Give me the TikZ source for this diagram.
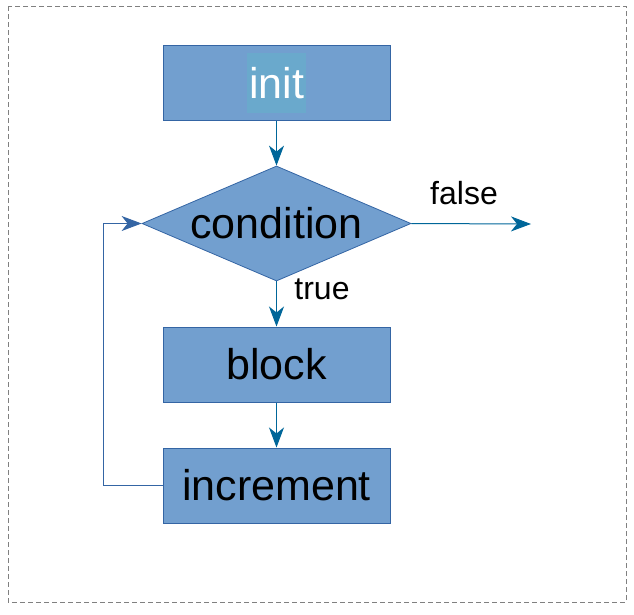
\documentclass[tikz,border=0pt]{standalone}
\usepackage{fontspec}
\setmainfont{Liberation Sans}
\usetikzlibrary{shapes.geometric,arrows.meta}
\definecolor{boxfill}{HTML}{729FCF}
\definecolor{boxline}{HTML}{3465A4}
\definecolor{arrowcol}{HTML}{006699}
\definecolor{hilite}{HTML}{6AA9CC}

\begin{document}
\begin{tikzpicture}[x=1pt, y=-1pt,
	box/.style={rectangle, draw=boxline, fill=boxfill, line width=1pt, minimum width=227pt, minimum height=75pt, inner sep=0pt, font=\fontsize{43}{50}\selectfont},
	decision/.style={diamond, draw=boxline, fill=boxfill, line width=0.8pt, aspect=2.34, minimum width=269pt, minimum height=115pt, inner sep=0pt, font=\fontsize{43}{50}\selectfont},
	lbl/.style={inner sep=0pt, font=\fontsize{32}{38}\selectfont},
	link/.style={draw=arrowcol, line width=1pt, -{Stealth[length=20pt, width=15pt, inset=6pt]}},
	back/.style={draw=boxline, line width=1pt, -{Stealth[length=20pt, width=15pt, inset=6pt]}}]
	\useasboundingbox (0,0) rectangle (634,614);
	\draw[gray, line width=0.8pt, dash pattern=on 5pt off 3pt] (8,6) rectangle (626,602);
	% boxes
	\node[box] (init) at (276.5,82.5) {};
	\node[fill=hilite, text=white, minimum width=59pt, minimum height=60pt, inner sep=0pt, font=\fontsize{43}{50}\selectfont] (initlbl) at (276.5,83) {init};
	\node[decision] (cond) at (276.5,223.5) {condition};
	\node[box] (block) at (276.5,364.5) {block};
	\node[box] (incr) at (276.5,485.5) {increment};
	\coordinate (exit) at (531,224);
	\node[lbl] (truelbl) at (322,289) {true};
	\node[lbl] (falselbl) at (464,193) {false};
	% arrows
	\draw[link] (init.south) -- (cond.north);
	\draw[link] (cond.south) -- (block.north);
	\draw[link] (block.south) -- (incr.north);
	\draw[link] (cond.east) -- (exit);
	\draw[back] (incr.west) -- ++(-59,0) |- (cond.west);
\end{tikzpicture}
\end{document}
